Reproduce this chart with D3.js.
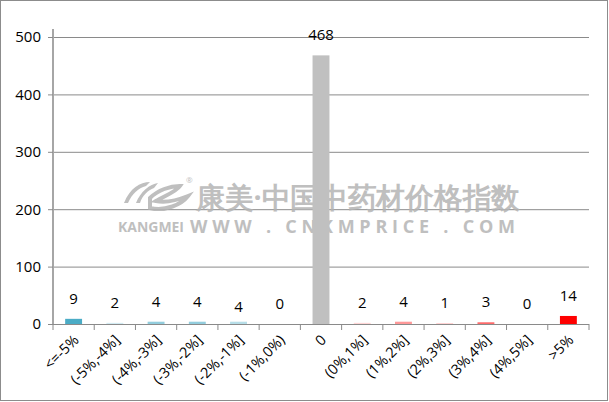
<!DOCTYPE html>
<html><head><meta charset="utf-8">
<script src="https://cdn.jsdelivr.net/npm/d3@7"></script>
<style>
html,body{margin:0;padding:0;background:#fff;}
svg text{font-family:"Open Sans","Liberation Sans",sans-serif;}
</style></head>
<body>
<svg id="c" width="609" height="402"></svg>
<script>
const categories = ["<=-5%","(-5%,-4%]","(-4%,-3%]","(-3%,-2%]","(-2%,-1%]","(-1%,0%)","0","(0%,1%]","(1%,2%]","(2%,3%]","(3%,4%]","(4%,5%]",">5%"];
const values = [9,2,4,4,4,0,468,2,4,1,3,0,14];
const barColors = ["#4bacc6","#d3ebf2","#93cddd","#93cddd","#b7dee8","#b7dee8","#c0c0c0","#ffd6d6","#ff9999","#ffb3b3","#ff6b6b","#ff9999","#ff0000"];
const yTicks = [0,100,200,300,400,500];

const svg = d3.select("#c");
svg.append("rect").attr("x",0.5).attr("y",0.5).attr("width",607).attr("height",400)
  .attr("fill","#fff").attr("stroke","#8c8c8c");

const m = {left:53, right:589, top:37, bottom:324};
const x = d3.scaleBand().domain(categories).range([m.left,m.right]).paddingInner(0.59).paddingOuter(0.295);
const xt = d3.scaleBand().domain(categories).range([m.left,m.right]);
const y = d3.scaleLinear().domain([0,500]).range([m.bottom,m.top]);

// gridlines
svg.append("g").selectAll("line").data(yTicks.filter(d=>d>0)).join("line")
  .attr("x1",m.left).attr("x2",m.right).attr("y1",d=>y(d)+0.5).attr("y2",d=>y(d)+0.5)
  .attr("stroke","#8a8a8a").attr("stroke-width",1);

// watermark
const wm = svg.append("g").attr("fill","#b4b4b4").attr("opacity",0.85);
wm.append("path").attr("d","M124,203 C130,188 140,182 150,182 L146,186 C138,188 132,194 128,203 Z M136,203 C140,192 150,184 158,183 L154,188 C148,190 142,196 140,203 Z");
wm.append("path").attr("d","M150,208 C165,212 182,204 188,196 C178,200 166,203 156,201 C164,196 176,192 180,186 C170,186 158,190 150,198 Z").attr("fill","none").attr("stroke","#b4b4b4").attr("stroke-width",4);
wm.append("text").attr("x",186).attr("y",183).attr("font-size",8).text("®");
wm.append("text").attr("x",196).attr("y",208).attr("font-size",29).attr("font-weight","bold")
  .attr("font-family","Noto Sans CJK SC").attr("textLength",324).attr("lengthAdjust","spacingAndGlyphs").text("康美·中国中药材价格指数");
wm.append("text").attr("x",118).attr("y",232).attr("font-size",14).attr("font-weight","bold")
  .attr("font-family","DejaVu Sans").attr("textLength",66).attr("lengthAdjust","spacingAndGlyphs").text("KANGMEI");
wm.append("text").attr("x",190).attr("y",233).attr("font-size",18).attr("font-weight","bold")
  .attr("font-family","DejaVu Sans").attr("textLength",325).attr("lengthAdjust","spacing").text("WWW . CNKMPRICE . COM");

// bars
svg.append("g").selectAll("rect").data(values).join("rect")
  .attr("x",(d,i)=>x(categories[i])).attr("width",x.bandwidth())
  .attr("y",d=>y(d)).attr("height",d=>m.bottom-y(d))
  .attr("fill",(d,i)=>barColors[i]);

// value labels
svg.append("g").selectAll("text").data(values).join("text")
  .attr("x",(d,i)=>x(categories[i])+x.bandwidth()/2)
  .attr("y",(d,i)=> i===4 ? y(d)-10 : y(d)-15)
  .attr("text-anchor","middle").attr("font-size",15).attr("fill","#000")
  .text(d=>d);

// y axis
const ya = svg.append("g").attr("transform",`translate(${m.left},0)`)
  .call(d3.axisLeft(y).tickValues(yTicks).tickSize(5).tickPadding(7));
ya.select(".domain").attr("stroke","#a6a6a6").attr("stroke-width",2).attr("d",`M0,${m.top-8}V${m.bottom}`);
ya.selectAll(".tick line").attr("stroke","#8a8a8a");
ya.selectAll(".tick text").attr("font-size",15).attr("fill","#000");

// x axis
const xg = svg.append("g");
xg.append("line").attr("x1",m.left-5).attr("x2",m.right).attr("y1",m.bottom+0.5).attr("y2",m.bottom+0.5).attr("stroke","#8a8a8a");
const edges = categories.map(c=>xt(c)).concat([m.right]);
xg.selectAll("line.t").data(edges).join("line").attr("class","t")
  .attr("x1",d=>d).attr("x2",d=>d).attr("y1",m.bottom).attr("y2",m.bottom+6).attr("stroke","#8a8a8a");
xg.selectAll("text").data(categories).join("text")
  .attr("text-anchor","end").attr("font-size",14.5).attr("fill","#000")
  .attr("transform",d=>`translate(${xt(d)+xt.bandwidth()/2+6},${m.bottom+17}) rotate(-45)`)
  .text(d=>d);
</script>
</body></html>
